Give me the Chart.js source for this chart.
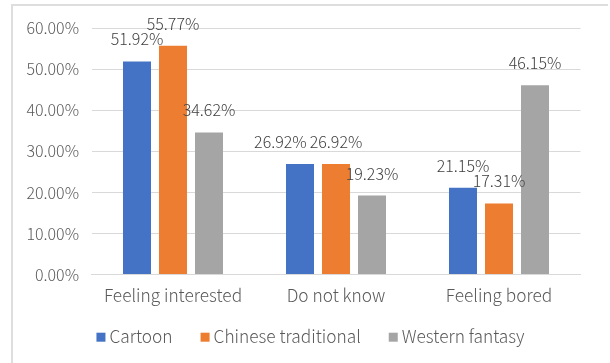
<!DOCTYPE html>
<html>
<head>
<meta charset="utf-8">
<script src="https://cdn.jsdelivr.net/npm/chart.js@4/dist/chart.umd.min.js"></script>
<style>
  html, body { margin: 0; padding: 0; background: #ffffff; }
  canvas { display: block; }
</style>
</head>
<body>
<canvas id="chart" width="610" height="363"></canvas>
<script>
// Survey answers per picture-book style (percent of respondents)
const categories = ['Feeling interested', 'Do not know', 'Feeling bored'];
const seriesNames = ['Cartoon', 'Chinese traditional', 'Western fantasy'];
const cartoon = [51.92, 26.92, 21.15];
const chineseTraditional = [55.77, 26.92, 17.31];
const westernFantasy = [34.62, 19.23, 46.15];
const seriesColors = ['#4472C4', '#ED7D31', '#A5A5A5'];

const FONT = '"Noto Sans CJK SC", "Noto Sans", sans-serif';
const NUM_SIZE = 16;
const TEXT_SIZE = 17.3;

// Light frame around the chart object
const framePlugin = {
  id: 'frame',
  beforeDraw(chart) {
    const ctx = chart.ctx;
    ctx.save();
    ctx.fillStyle = '#ffffff';
    ctx.fillRect(0, 0, chart.width, chart.height);
    ctx.strokeStyle = '#dedede';
    ctx.lineWidth = 2;
    ctx.beginPath();
    ctx.moveTo(12, chart.height);
    ctx.lineTo(12, 5);
    ctx.lineTo(608, 5);
    ctx.stroke();
    ctx.restore();
  }
};

// Value labels above each bar; a label that would collide with the
// next label in the same category is nudged to the left.
const valueLabelPlugin = {
  id: 'valueLabels',
  afterDatasetsDraw(chart) {
    const ctx = chart.ctx;
    ctx.save();
    ctx.font = '300 ' + NUM_SIZE + 'px ' + FONT;
    ctx.fillStyle = '#404040';
    ctx.textAlign = 'center';
    ctx.textBaseline = 'alphabetic';
    const capH = 12;
    const n = chart.data.labels.length;
    for (let i = 0; i < n; i++) {
      const items = chart.data.datasets.map((ds, d) => {
        const bar = chart.getDatasetMeta(d).data[i];
        const text = ds.data[i].toFixed(2) + '%';
        const w = ctx.measureText(text).width;
        return { text, x: bar.x, y: bar.y - 16, w };
      });
      for (let k = items.length - 2; k >= 0; k--) {
        const a = items[k], b = items[k + 1];
        const vOverlap = Math.abs(a.y - b.y) < capH;
        const aRight = a.x + a.w / 2, bLeft = b.x - b.w / 2;
        if (vOverlap && aRight > bLeft - 3) {
          a.x -= aRight - (bLeft - 3);
        }
      }
      items.forEach(it => ctx.fillText(it.text, it.x, it.y));
    }
    ctx.restore();
  }
};

// Legend row under the axis with small square markers
const legendRowPlugin = {
  id: 'legendRow',
  afterDraw(chart) {
    const ctx = chart.ctx;
    ctx.save();
    ctx.font = '300 ' + TEXT_SIZE + 'px ' + FONT;
    ctx.textBaseline = 'alphabetic';
    ctx.textAlign = 'left';
    const box = 9, boxGap = 4, itemGap = 28;
    const items = chart.data.datasets.map(ds => ({
      label: ds.label, color: ds.backgroundColor,
      w: ctx.measureText(ds.label).width
    }));
    const total = items.reduce((s, it) => s + box + boxGap + it.w, 0) + itemGap * (items.length - 1);
    let x = 310.5 - total / 2;
    const baseline = 342.7;
    items.forEach(it => {
      ctx.fillStyle = it.color;
      ctx.fillRect(x, baseline - 10, box, box);
      ctx.fillStyle = '#595959';
      ctx.fillText(it.label, x + box + boxGap, baseline);
      x += box + boxGap + it.w + itemGap;
    });
    ctx.restore();
  }
};

const seriesData = [cartoon, chineseTraditional, westernFantasy];

new Chart(document.getElementById('chart'), {
  type: 'bar',
  data: {
    labels: categories,
    datasets: seriesNames.map((name, i) => ({
      label: name,
      data: seriesData[i],
      backgroundColor: seriesColors[i],
      borderWidth: 0,
      categoryPercentage: 0.6626,
      barPercentage: 0.778
    }))
  },
  options: {
    responsive: false,
    animation: false,
    devicePixelRatio: 1,
    layout: { padding: { top: 28.3, right: 29.5, bottom: 0, left: 0 } },
    plugins: {
      legend: { display: false },
      tooltip: { enabled: false }
    },
    scales: {
      x: {
        grid: { display: false, drawTicks: false },
        border: { display: true, color: '#d9d9d9', width: 1 },
        ticks: {
          color: '#595959',
          font: { family: FONT, size: TEXT_SIZE, weight: 300 },
          padding: 11,
          maxRotation: 0
        },
        afterFit(scale) { scale.height = 88.5; }
      },
      y: {
        min: 0,
        max: 60,
        grid: { color: '#d9d9d9', lineWidth: 1, drawTicks: false },
        border: { display: false },
        ticks: {
          stepSize: 10,
          color: '#595959',
          font: { family: FONT, size: NUM_SIZE, weight: 300 },
          padding: 12.5,
          callback: v => v.toFixed(2) + '%'
        },
        afterFit(scale) { scale.width = 91.5; }
      }
    }
  },
  plugins: [framePlugin, valueLabelPlugin, legendRowPlugin]
});
</script>
</body>
</html>
